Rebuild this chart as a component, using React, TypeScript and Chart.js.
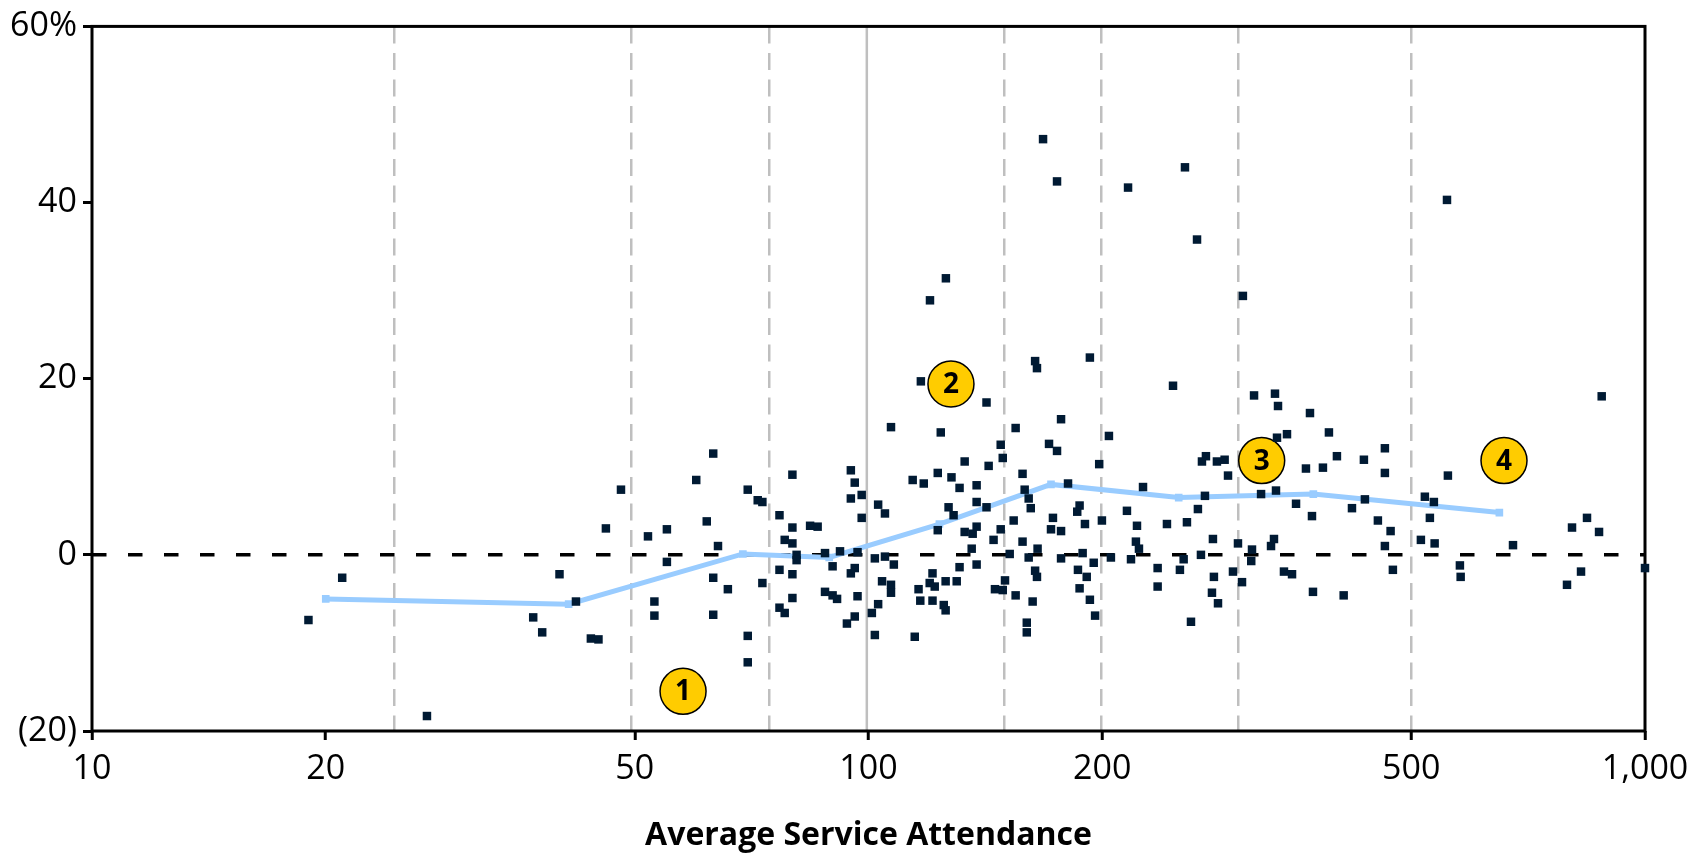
import React, { useEffect, useRef } from 'react';
import { Chart, registerables } from 'chart.js';

Chart.register(...registerables);

// Scatter: average service attendance (x) vs growth % (y)
const ATTENDANCE = [
  21.0, 19.0, 27.0, 40.0, 37.0, 38.0, 42.0, 43.9, 44.9, 45.9, 48.0, 52.0, 55.0, 55.0, 53.0, 53.0, 60.0,
  63.1, 61.9, 64.0, 63.1, 65.9, 63.1, 69.9, 72.0, 73.0, 73.0, 69.9, 69.9, 76.8, 79.8, 79.8, 78.0, 79.8,
  80.8, 80.8, 76.8, 79.8, 79.8, 76.8, 78.0, 84.1, 86.0, 87.9, 89.9, 91.9, 87.9, 89.9, 91.1, 94.9, 96.0,
  94.9, 98.0, 98.0, 96.8, 96.0, 94.9, 96.8, 96.0, 93.8, 101.9, 102.9, 105.0, 105.0, 107.8, 104.1, 106.9,
  106.9, 102.9, 101.0, 101.9, 106.9, 114.0, 117.8, 122.8, 122.8, 127.9, 131.0, 133.0, 137.8, 137.8, 141.9,
  126.8, 128.7, 133.0, 136.2, 137.8, 135.8, 131.0, 137.8, 120.9, 119.9, 121.7, 125.7, 129.9, 116.0, 116.6,
  120.9, 125.0, 125.7, 114.7, 116.8, 141.9, 123.9, 142.8, 148.0, 148.9, 154.7, 163.9, 164.8, 177.0, 170.8,
  174.9, 192.8, 198.2, 157.9, 158.9, 160.8, 161.8, 180.7, 187.0, 185.7, 190.0, 172.8, 171.8, 177.0, 153.8,
  148.0, 144.9, 152.0, 157.9, 160.8, 165.1, 177.0, 188.7, 195.0, 186.1, 191.0, 187.0, 192.8, 195.8, 163.9,
  164.8, 149.9, 145.5, 148.9, 154.7, 162.7, 159.9, 159.9,
  199.8, 204.0, 205.2, 215.2, 221.7, 221.0, 223.0, 217.8, 225.7, 246.7, 242.3, 235.7, 235.7, 251.8, 254.6,
  257.1, 260.2, 265.6, 268.0, 271.2, 268.8, 272.0, 281.0, 287.5, 290.4, 277.7, 278.5, 276.9, 281.9, 294.7,
  299.1, 302.7, 311.8, 311.1, 313.7, 333.8, 336.8, 335.8, 345.9, 320.3, 334.8, 332.8, 329.9, 342.8, 351.1,
  355.3, 365.9, 370.3, 372.5, 373.6, 384.8, 391.7, 401.1, 409.2, 419.4, 434.5, 435.8, 452.9, 462.4, 462.4,
  470.3, 462.4, 473.5, 520.6, 534.7, 528.4, 514.5, 535.9, 557.4, 577.6, 578.9,
  676.1, 805.4, 842.0, 872.6, 827.2, 793.5, 1000, 879.5, 555.9,
  167.8, 174.9, 215.9, 255.6, 264.9, 303.5, 125.8, 120.0,
];
const GROWTH = [
  -2.6, -7.4, -18.3, -2.2, -7.1, -8.8, -5.3, -9.5, -9.6, 3.0, 7.4, 2.1, 2.9, -0.8, -5.3, -6.9, 8.5,
  11.5, 3.8, 1.0, -2.6, -3.9, -6.8, 7.4, 6.2, 6.0, -3.2, -9.2, -12.2, 4.5, 9.1, 3.1, 1.7, 1.3,
  0.0, -0.6, -1.7, -2.2, -4.9, -6.0, -6.6, 3.3, 3.2, 0.2, -1.3, 0.4, -4.2, -4.6, -5.0, 9.6, 8.2,
  6.4, 6.8, 4.2, 0.3, -1.5, -2.1, -4.7, -7.0, -7.8, -0.4, 5.7, 4.7, -0.2, -1.1, -3.0, -3.4,
  -4.3, -5.6, -6.6, -9.1, 14.5, 8.5, 8.1, 2.8, 9.3, 8.8, 7.6, 10.6, 7.9, 6.0, 5.4,
  5.4, 4.5, 2.6, 2.4, 3.2, 0.7, -1.4, -1.1, -2.1, -3.2, -3.6, -3.0, -3.0, -3.9, -5.2,
  -5.2, -5.7, -6.3, -9.3, 19.7, 17.3, 13.9, 10.1, 12.5, 11.0, 14.4, 22.0, 21.2, 15.4, 12.6,
  11.8, 22.4, 10.3, 9.2, 7.4, 6.4, 5.3, 8.1, 5.6, 4.9, 3.5, 4.2, 2.9, 2.7, 3.9,
  2.9, 1.7, 0.1, 1.5, -0.3, 0.7, -0.4, 0.2, -0.9, -1.7, -2.5, -3.8, -5.1, -6.9, -1.8,
  -2.5, -2.9, -3.9, -4.0, -4.6, -5.3, -7.7, -8.8,
  3.9, 13.5, -0.3, 5.0, 3.3, 1.5, 0.7, -0.5, 7.7, 19.2, 3.5, -1.5, -3.6, -1.7, -0.5,
  3.7, -7.6, 5.2, 0.0, 6.7, 10.6, 11.2, 10.6, 10.8, 9.0, 1.8, -2.5, -4.3, -5.5, -1.9,
  1.3, -3.1, 0.6, -0.7, 18.1, 18.3, 16.9, 13.3, 13.7, 6.9, 7.3, 1.8, 1.0, -1.9, -2.2,
  5.8, 9.8, 16.1, 4.4, -4.2, 9.9, 13.9, 11.2, -4.6, 5.3, 10.8, 6.3, 3.9, 12.1, 9.3,
  2.7, 1.0, -1.7, 6.6, 6.0, 4.2, 1.7, 1.3, 9.0, -1.2, -2.5,
  1.1, 3.1, 4.2, 2.6, -1.9, -3.4, -1.5, 18.0, 40.3,
  47.2, 42.4, 41.7, 44.0, 35.8, 29.4, 31.4, 28.9,
];

// Trend line (averages by attendance band)
const TREND_X = [20.0, 41.1, 68.9, 89.0, 123.4, 171.8, 250.9, 374.0, 649.3];
const TREND_Y = [-5.0, -5.6, 0.1, -0.3, 3.5, 8.0, 6.5, 6.9, 4.8];

// Reference zero line
const ZERO_X = [10, 1000];
const ZERO_Y = [0, 0];

// Axis ticks and band boundaries
const X_LABELED = [10, 20, 50, 100, 200, 500, 1000];
const X_GRID_DASHED = [24.5, 49.5, 74.5, 149.5, 199.5, 299.5, 499.5];
const X_GRID_SOLID = [99.5];
const Y_TICKS = [-20, 0, 20, 40, 60];

// Numbered callouts
const ANNOT_X = [57.7, 127.7, 320.9, 658.3];
const ANNOT_Y = [-15.5, 19.4, 10.7, 10.7];
const ANNOT_LABELS = ['1', '2', '3', '4'];

const TICK_FONT = { family: '"Open Sans", "Noto Sans", sans-serif', size: 34 };

function yLabel(v: number): string {
  if (v < 0) return '(' + Math.abs(v) + ')';
  if (v === Y_TICKS[Y_TICKS.length - 1]) return v + '%';
  return String(v);
}

const framePlugin = {
  id: 'frame',
  beforeDatasetsDraw(chart: any) {
    const { ctx, chartArea: a, scales } = chart;
    const xs = scales.x;
    ctx.save();
    ctx.strokeStyle = '#BFBFBF';
    ctx.lineWidth = 2.5;
    for (const v of X_GRID_SOLID) {
      const px = xs.getPixelForValue(v);
      ctx.beginPath();
      ctx.moveTo(px, a.top);
      ctx.lineTo(px, a.bottom);
      ctx.stroke();
    }
    ctx.strokeStyle = '#000';
    ctx.lineWidth = 3;
    ctx.strokeRect(a.left, a.top, a.right - a.left, a.bottom - a.top);
    ctx.restore();
  },
  afterDatasetsDraw(chart: any) {
    const { ctx, scales } = chart;
    ctx.save();
    ctx.fillStyle = '#000';
    ctx.font = 'bold 28px "Open Sans", sans-serif';
    ctx.textAlign = 'center';
    ctx.textBaseline = 'middle';
    ANNOT_LABELS.forEach((t, i) => {
      const px = scales.x.getPixelForValue(ANNOT_X[i]);
      const py = scales.y.getPixelForValue(ANNOT_Y[i]);
      ctx.fillText(t, px, py + 1);
    });
    ctx.restore();
  },
};

export default function App() {
  const ref = useRef<HTMLCanvasElement | null>(null);

  useEffect(() => {
    document.body.style.margin = '0';
    const canvas = ref.current;
    if (!canvas) return;
    const allTicks = Array.from(new Set([...X_LABELED, ...X_GRID_DASHED])).sort((a, b) => a - b);
    const chart = new Chart(canvas, {
      type: 'scatter',
      data: {
        datasets: [
          {
            type: 'scatter',
            label: 'Churches',
            data: ATTENDANCE.map((x, i) => ({ x, y: GROWTH[i] })),
            pointStyle: 'rect',
            pointRadius: 6,
            backgroundColor: '#001A33',
            borderColor: '#001A33',
            borderWidth: 0,
            clip: false,
            order: 1,
          } as any,
          {
            type: 'scatter',
            label: 'Callouts',
            data: ANNOT_X.map((x, i) => ({ x, y: ANNOT_Y[i] })),
            pointStyle: 'circle',
            pointRadius: 23,
            backgroundColor: '#FFCC00',
            borderColor: '#000',
            borderWidth: 1.5,
            clip: false,
            order: 2,
          } as any,
          {
            type: 'line',
            label: 'Trend',
            data: TREND_X.map((x, i) => ({ x, y: TREND_Y[i] })),
            borderColor: '#99CCFF',
            backgroundColor: '#99CCFF',
            borderWidth: 5,
            pointStyle: 'rect',
            pointRadius: 5.4,
            pointBorderWidth: 0,
            tension: 0,
            fill: false,
            order: 3,
          } as any,
          {
            type: 'line',
            label: 'Zero',
            data: ZERO_X.map((x, i) => ({ x, y: ZERO_Y[i] })),
            borderColor: '#000',
            borderWidth: 3.5,
            borderDash: [14.5, 21.5],
            pointRadius: 0,
            fill: false,
            order: 4,
          } as any,
        ],
      },
      options: {
        animation: false,
        responsive: true,
        maintainAspectRatio: false,
        events: [],
        layout: { padding: { top: 21, right: 57, left: 0, bottom: 0 } },
        plugins: { legend: { display: false }, tooltip: { enabled: false } },
        scales: {
          x: {
            type: 'logarithmic',
            min: 10,
            max: 1000,
            afterBuildTicks: (s: any) => {
              s.ticks = allTicks.map((v) => ({ value: v }));
            },
            afterFit: (s: any) => {
              s.height = 128;
            },
            ticks: {
              autoSkip: false,
              maxRotation: 0,
              color: '#000',
              font: TICK_FONT,
              padding: 9,
              callback: (v: any) =>
                X_LABELED.includes(Number(v)) ? Number(v).toLocaleString('en-US') : '',
            },
            grid: {
              color: (c: any) =>
                c.tick && X_GRID_DASHED.includes(c.tick.value) ? '#BFBFBF' : 'rgba(0,0,0,0)',
              lineWidth: 2.5,
              drawTicks: true,
              tickLength: 9,
              tickWidth: 3,
              tickColor: (c: any) =>
                c.tick && X_LABELED.includes(c.tick.value) ? '#000' : 'rgba(0,0,0,0)',
            },
            border: { display: false, dash: [17, 9.5] },
            title: {
              display: true,
              text: 'Average Service Attendance',
              color: '#000',
              font: { family: '"Open Sans", sans-serif', weight: 'bold', size: 32 },
              padding: { top: 0, bottom: 4 },
            },
          } as any,
          y: {
            type: 'linear',
            min: -20,
            max: 60,
            afterBuildTicks: (s: any) => {
              s.ticks = Y_TICKS.map((v) => ({ value: v }));
            },
            afterFit: (s: any) => {
              s.width = 92;
            },
            ticks: {
              color: '#000',
              font: TICK_FONT,
              padding: 6,
              callback: (v: any) => yLabel(Number(v)),
            },
            grid: {
              drawOnChartArea: false,
              drawTicks: true,
              tickLength: 9,
              tickWidth: 3,
              tickColor: '#000',
              color: 'rgba(0,0,0,0)',
            },
            border: { display: false },
          } as any,
        },
      },
      plugins: [framePlugin],
    });
    return () => chart.destroy();
  }, []);

  return (
    <div style={{ position: 'relative', width: '1702px', height: '859px' }}>
      <canvas ref={ref} />
    </div>
  );
}
